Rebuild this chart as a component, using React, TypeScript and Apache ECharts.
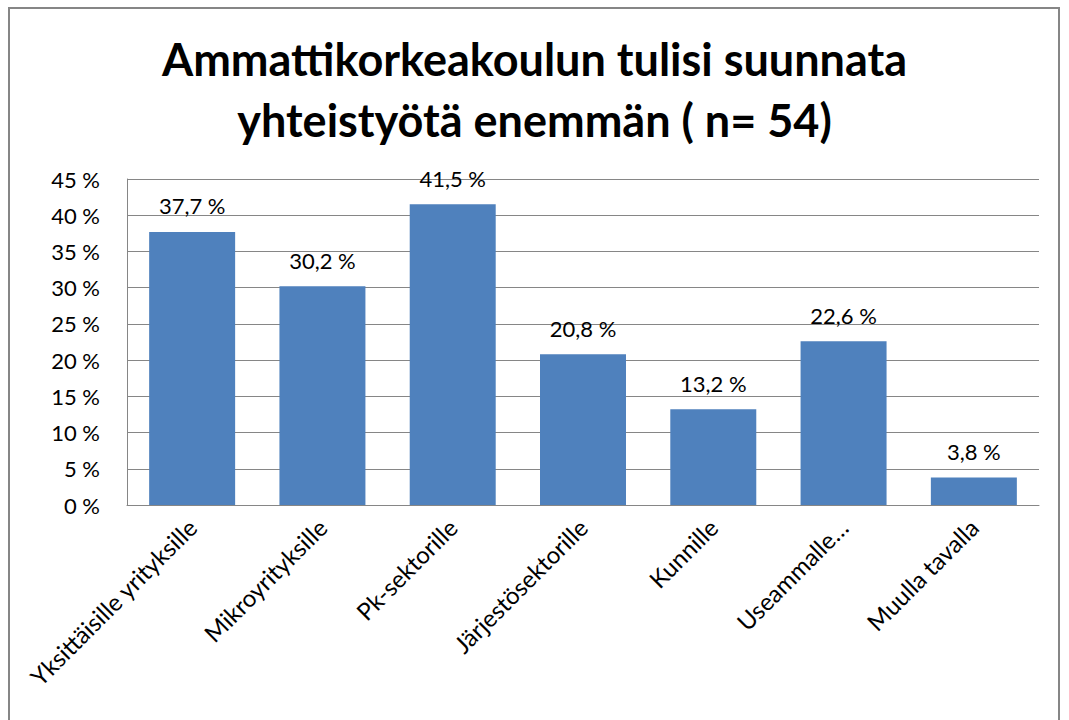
import React, { useEffect, useRef } from "react";
import * as echarts from "echarts";

const titleLines = ["Ammattikorkeakoulun tulisi suunnata", "yhteistyötä enemmän ( n= 54)"];
const categories = [
  "Yksittäisille yrityksille",
  "Mikroyrityksille",
  "Pk-sektorille",
  "Järjestösektorille",
  "Kunnille",
  "Useammalle…",
  "Muulla tavalla",
];
const values = [37.7, 30.2, 41.5, 20.8, 13.2, 22.6, 3.8];
const yMin = 0;
const yMax = 45;
const yInterval = 5;

const FONT = "Lato, 'Open Sans', sans-serif";

export default function App() {
  const ref = useRef<HTMLDivElement>(null);
  useEffect(() => {
    if (!ref.current) return;
    const chart = echarts.init(ref.current, null, { renderer: "svg" });
    chart.setOption({
      animation: false,
      backgroundColor: "#ffffff",
      title: {
        text: titleLines.join("\n"),
        left: "center",
        top: 23,
        textStyle: {
          fontFamily: FONT,
          fontSize: 45,
          fontWeight: "bold",
          color: "#000",
          lineHeight: 61,
        },
      },
      graphic: [
        {
          type: "rect",
          shape: { x: 9, y: 8, width: 1050, height: 740 },
          style: { fill: "none", stroke: "#868686", lineWidth: 2 },
          silent: true,
        },
      ],
      grid: { left: 127, right: 30, top: 179, bottom: 215, containLabel: false },
      xAxis: {
        type: "category",
        data: categories,
        axisLine: { show: true, lineStyle: { color: "#868686", width: 1 } },
        axisTick: { show: false },
        axisLabel: {
          rotate: 45,
          interval: 0,
          margin: 18,
          fontFamily: FONT,
          fontSize: 24,
          color: "#000",
        },
      },
      yAxis: {
        type: "value",
        min: yMin,
        max: yMax,
        interval: yInterval,
        axisLine: { show: true, lineStyle: { color: "#868686", width: 1 } },
        axisTick: { show: false },
        splitLine: { show: true, lineStyle: { color: "#868686", width: 1 } },
        axisLabel: {
          formatter: (v: number) => `${v} %`,
          fontFamily: FONT,
          fontSize: 22,
          color: "#000",
          margin: 27,
        },
      },
      series: [
        {
          type: "bar",
          data: values,
          barWidth: "66%",
          itemStyle: { color: "#4F81BD" },
          label: {
            show: true,
            position: "top",
            distance: 15,
            formatter: (p: any) => `${p.value.toFixed(1).replace(".", ",")} %`,
            fontFamily: FONT,
            fontSize: 22,
            color: "#000",
          },
        },
      ],
    });
    return () => chart.dispose();
  }, []);
  return (
    <div
      ref={ref}
      style={{ position: "absolute", left: 0, top: 0, width: 1069, height: 720 }}
    />
  );
}
